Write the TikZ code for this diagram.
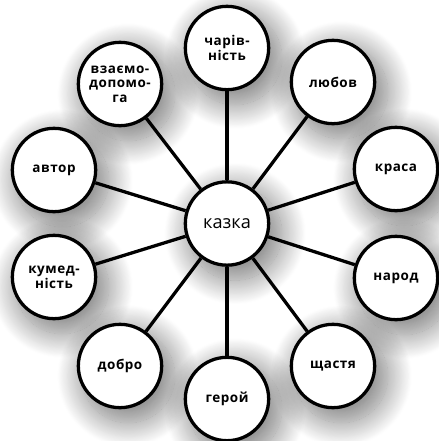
\documentclass[tikz,border=0pt]{standalone}
\usepackage{fontspec}
\setmainfont{Open Sans}
\newfontfamily\wordfont[LetterSpace=4]{Open Sans}
\usetikzlibrary{shadows.blur}

\begin{document}
\begin{tikzpicture}[x=0.03cm,y=-0.03cm,
  word/.style={circle,draw,line width=2.8pt,fill=white,minimum size=2.5cm,inner sep=0pt,align=center,
    font=\wordfont\bfseries\fontsize{11.5}{12.5}\selectfont,
    blur shadow={shadow xshift=0.22cm,shadow yshift=-0.27cm,shadow blur radius=0.65cm,shadow blur steps=30,shadow scale=1.12,shadow opacity=50}},
  link/.style={line width=2.8pt}]
\useasboundingbox (0,0) rectangle (438,441);
\node[word] (10) at (120,84) {взаємо-\\допомо-\\га};
\node[word] (9) at (54,170) {автор};
\node[word] (1) at (227,48) {чарів-\\ність};
\node[word] (8) at (54,277) {кумед-\\ність};
\node[word] (2) at (333,82) {любов};
\node[word,font=\fontsize{15.5}{18}\selectfont] (0) at (227,223.5) {казка};
\node[word] (7) at (120,366) {добро};
\node[word] (3) at (396,169) {краса};
\node[word] (6) at (227,399) {герой};
\node[word] (4) at (396,278) {народ};
\node[word] (5) at (333,366) {щастя};
\draw[link] (0)--(1);
\draw[link] (0)--(2);
\draw[link] (0)--(3);
\draw[link] (0)--(4);
\draw[link] (0)--(5);
\draw[link] (0)--(6);
\draw[link] (0)--(7);
\draw[link] (0)--(8);
\draw[link] (0)--(9);
\draw[link] (0)--(10);
\end{tikzpicture}
\end{document}
